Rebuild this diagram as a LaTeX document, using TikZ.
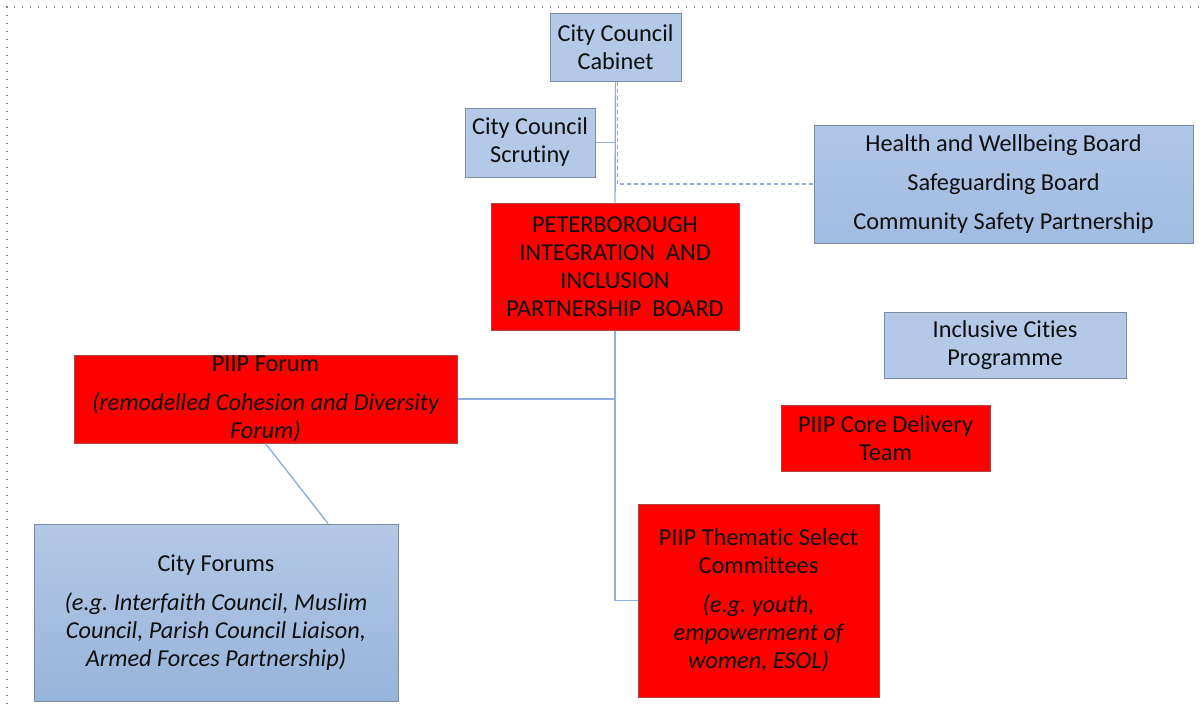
\documentclass[tikz,border=0pt]{standalone}
\usepackage{fontspec}
\setmainfont[Ligatures=NoCommon]{Carlito}
\frenchspacing
\definecolor{boxblue}{RGB}{180,200,231}
\definecolor{boxbluedark}{RGB}{150,180,218}
\definecolor{healthtop}{RGB}{176,198,232}
\definecolor{healthbot}{RGB}{160,188,226}
\definecolor{boxedge}{RGB}{125,138,160}
\definecolor{rededge}{RGB}{170,70,70}
\definecolor{linkblue}{RGB}{143,176,220}
\definecolor{textdark}{RGB}{15,15,15}
\tikzset{
  bluebox/.style={draw=boxedge, line width=1pt, fill=boxblue, align=center, inner sep=0pt, text=textdark},
  gradbox/.style={draw=boxedge, line width=1pt, top color=boxblue, bottom color=boxbluedark, align=center, inner sep=0pt, text=textdark},
  redbox/.style={draw=rededge, line width=1pt, fill=red, align=center, inner sep=0pt, text=textdark},
  link/.style={draw=linkblue, line width=1.4pt},
  dlink/.style={draw=linkblue, line width=1.2pt, dash pattern=on 4pt off 3pt},
}
\begin{document}
\begin{tikzpicture}[x=1pt,y=-1pt, font=\fontsize{24.3}{28}\selectfont\frenchspacing]
\useasboundingbox (0,0) rectangle (1203,704);
\draw[gray, line width=1.3pt, dash pattern=on 1.3pt off 6.7pt] (7,704) -- (7,7) -- (1203,7);

\node[bluebox, minimum width=131pt, minimum height=68pt] (cabinet) at (615.5,47) {City Council\\Cabinet};
\node[bluebox, minimum width=130pt, minimum height=69pt] (scrutiny) at (530,142.5) {City Council\\Scrutiny};
\node[gradbox, top color=healthtop, bottom color=healthbot, minimum width=379pt, minimum height=118pt] (health) at (1003.5,184) {Health and Wellbeing Board\\[11pt]Safeguarding Board\\[11pt]Community Safety Partnership};
\node[redbox, minimum width=248pt, minimum height=127pt] (board) at (615,266.5) {PETERBOROUGH\\INTEGRATION\ \ AND\\INCLUSION\\PARTNERSHIP\ \ BOARD};
\node[bluebox, minimum width=242pt, minimum height=66pt] (inclusive) at (1005,345) {Inclusive Cities\\Programme};
\node[redbox, minimum width=383pt, minimum height=88pt] (forum) at (265.5,399) {PIIP Forum\\[11pt]\itshape (remodelled Cohesion and Diversity\\\itshape Forum)};
\node[redbox, minimum width=209pt, minimum height=66pt] (core) at (885.5,438) {PIIP Core Delivery\\Team};
\node[gradbox, minimum width=364pt, minimum height=177pt] (cityf) at (216,612.5) {City Forums\\[11pt]\itshape (e.g. Interfaith Council, Muslim\\\itshape Council, Parish Council Liaison,\\\itshape Armed Forces Partnership)};
\node[redbox, minimum width=241pt, minimum height=193pt] (thematic) at (758.5,600.5) {PIIP Thematic Select\\Committees\\[11pt]\itshape (e.g. youth,\\\itshape empowerment of\\\itshape women, ESOL)};

\draw[link] (cabinet.south) -- (board.north);
\draw[dlink] ([xshift=1.8pt]cabinet.south) |- (health.west);
\draw[link] (scrutiny.east) -- (cabinet.south |- scrutiny.east);
\draw[link] (board.south) |- (thematic.west);
\draw[link] (forum.east) -- (board.south |- forum.east);
\draw[link] (forum.south) -- ([xshift=112pt]cityf.north);
\end{tikzpicture}
\end{document}
